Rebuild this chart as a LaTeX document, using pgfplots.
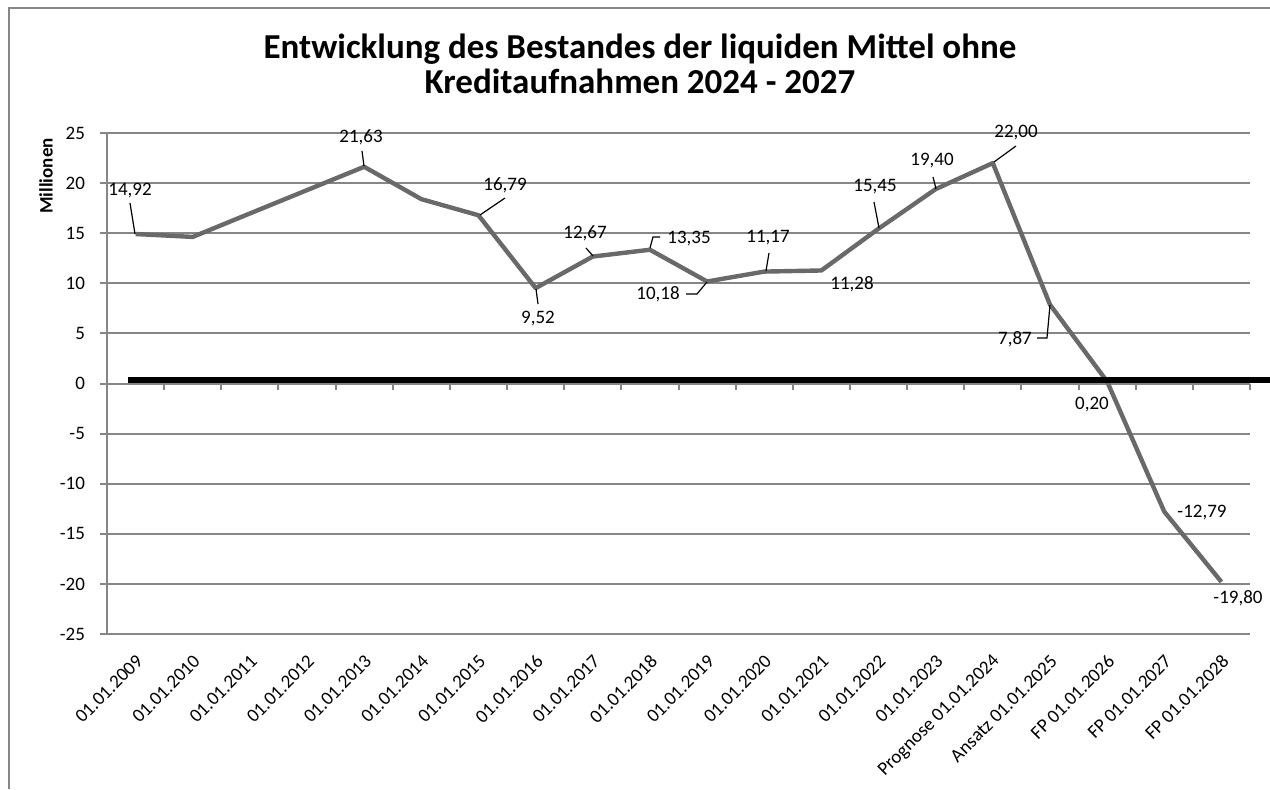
\documentclass[border=0pt]{standalone}
\usepackage{pgfplots}
\pgfplotsset{compat=1.18}
\usepackage{fontspec}
\setmainfont{Carlito}
\definecolor{gridgray}{RGB}{134,134,134}
\definecolor{linegray}{RGB}{105,105,105}

\begin{document}
\begin{tikzpicture}
\useasboundingbox (0,0) rectangle (635pt,394.5pt);
\begin{axis}[
  at={(53.5pt,77.5pt)}, anchor=south west,
  scale only axis, width=571.5pt, height=250.5pt,
  xmin=-0.5, xmax=19.5, ymin=-25, ymax=25,
  axis lines*=left,
  axis line style={gridgray, line width=1pt},
  ytick={-25,-20,...,25},
  ymajorgrids,
  major grid style={gridgray, line width=1pt},
  tick align=outside,
  major tick length=3.5pt,
  x tick style={draw=none},
  y tick style={gridgray, line width=1pt},
  xtick={0,...,19},
  xticklabels={01.01.2009,01.01.2010,01.01.2011,01.01.2012,01.01.2013,
    01.01.2014,01.01.2015,01.01.2016,01.01.2017,01.01.2018,01.01.2019,
    01.01.2020,01.01.2021,01.01.2022,01.01.2023,Prognose 01.01.2024,
    Ansatz 01.01.2025,FP 01.01.2026,FP 01.01.2027,FP 01.01.2028},
  xticklabel style={rotate=45, anchor=east, inner sep=0pt, xshift=-4.5pt, yshift=-7.5pt},
  yticklabel style={xshift=-4pt},
  ticklabel style={font=\fontsize{9.5}{11}\selectfont},
  /pgf/number format/assume math mode=true,
  clip=false,
]
% Bestand liquide Mittel (Mio.)
\addplot[linegray, line width=2.2pt, line join=round] coordinates {
  (0,14.92) (1,14.63) (2,16.97) (3,19.30) (4,21.63) (5,18.40)
  (6,16.79) (7,9.52) (8,12.67) (9,13.35) (10,10.18) (11,11.17)
  (12,11.28) (13,15.45) (14,19.40) (15,22.00) (16,7.87) (17,0.20)
  (18,-12.79) (19,-19.80)
};
% Null-Linie
\addplot[black, line width=3pt] coordinates {(-0.13,0.35) (19.95,0.35)};
\pgfplotsinvokeforeach{-0.5,0.5,...,19.5}{
  \draw[gridgray, line width=1pt] (axis cs:#1,0) -- ++(0pt,-3pt);
}
\end{axis}

\begin{scope}[x=0.5pt, y=-0.5pt, yshift=394.5pt]
\draw[gridgray, line width=1pt] (9,789) -- (9,8) -- (1275,8);
\node[font=\bfseries\fontsize{17.5}{17.5}\selectfont, align=center] at (640,64)
  {Entwicklung des Bestandes der liquiden Mittel ohne\\Kreditaufnahmen 2024 - 2027};
\node[rotate=90, font=\bfseries\fontsize{9.5}{10}\selectfont] at (46,176) {Millionen};

\begin{scope}[font=\fontsize{9.5}{11}\selectfont, inner sep=0pt]
\node at (130,191) {14,92};
\node at (361,137) {21,63};
\node at (505,185) {16,79};
\node at (538,319) {9,52};
\node at (585,233) {12,67};
\node at (689,239) {13,35};
\node at (658,294) {10,18};
\node at (768,238) {11,17};
\node at (852,284) {11,28};
\node at (875,187) {15,45};
\node at (932,161) {19,40};
\node at (1016,132.5) {22,00};
\node at (1015,339) {7,87};
\node at (1092,405) {0,20};
\node at (1202,513) {-12,79};
\node at (1238,598) {-19,80};
\end{scope}

\begin{scope}[black, line width=0.6pt]
\draw (130,203) -- (135,234);
\draw (362,151) -- (364,166);
\draw (505,198) -- (480,215);
\draw (536,289) -- (538,304);
\draw (586,248) -- (593,256);
\draw (660,237) -- (653,237) -- (650,248);
\draw (686,294) -- (697,294) -- (707,282);
\draw (769,253) -- (766,271);
\draw (874,202) -- (879,228);
\draw (933,177) -- (936,189);
\draw (1016,146) -- (994,162);
\draw (1037,338) -- (1047,338) -- (1050,305);
\end{scope}
\end{scope}
\end{tikzpicture}
\end{document}
